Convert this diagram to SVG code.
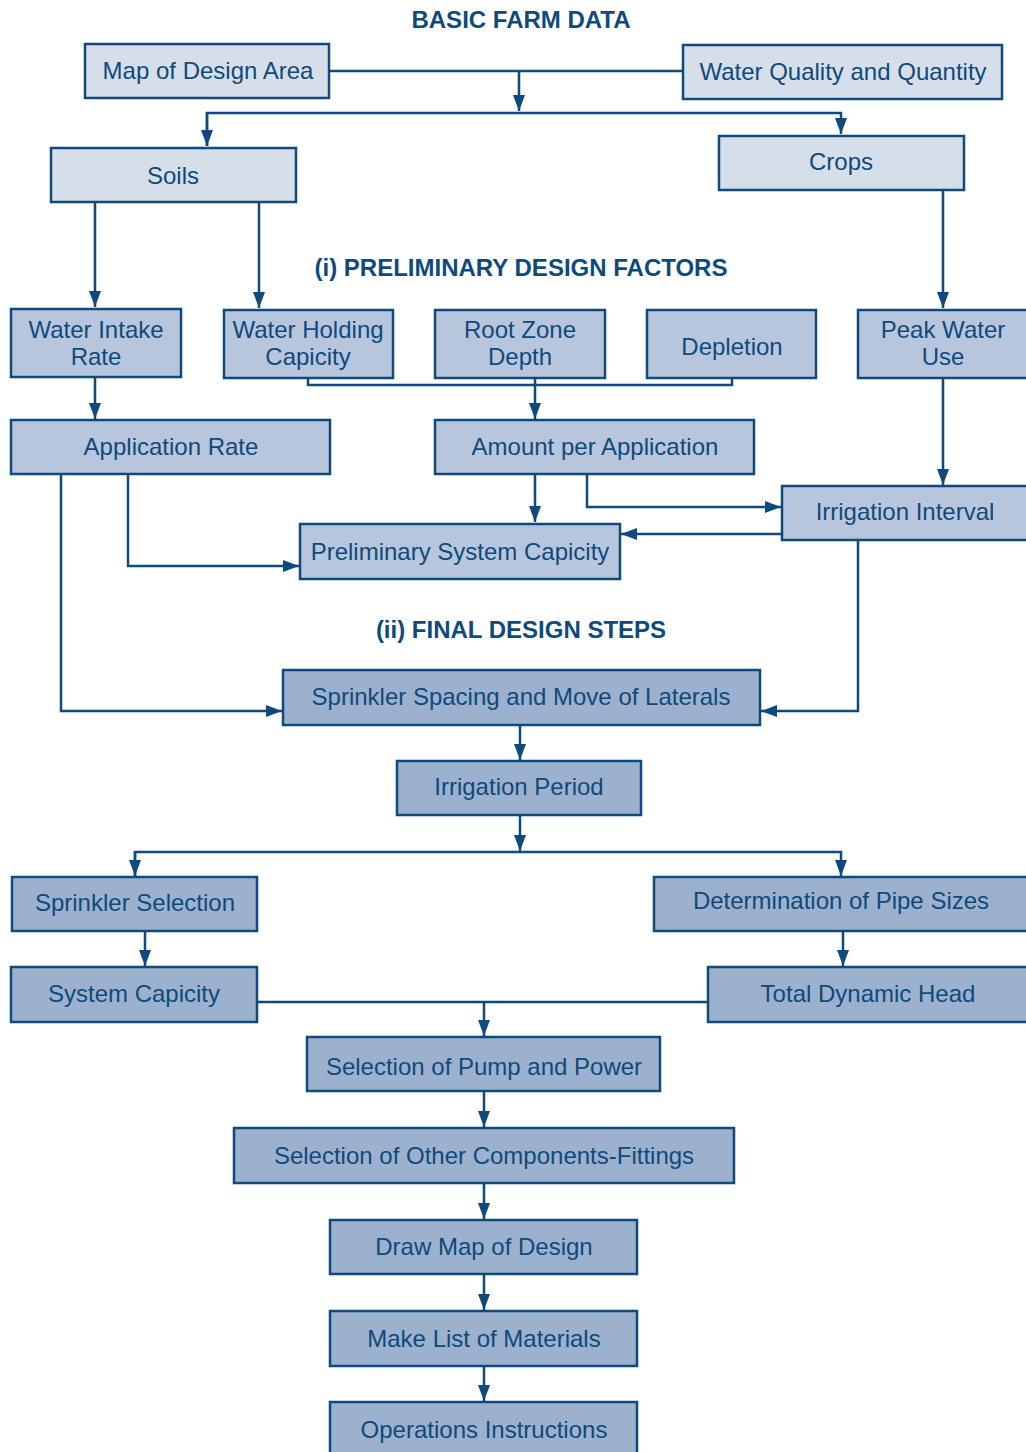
<svg xmlns="http://www.w3.org/2000/svg" width="1026" height="1452" viewBox="0 0 1026 1452">
<style>
.n rect{stroke:#0f4a7c;stroke-width:2.5}
.a rect{fill:#d6deea}
.b rect{fill:#b8c6dd}
.c rect{fill:#9cb1cd}
text{font-family:"Liberation Sans",Arial,sans-serif;font-size:24px;fill:#0f4a7c;text-anchor:middle}
.h{font-weight:bold;font-size:24px}
#edges path{fill:none;stroke:#0f4a7c;stroke-width:2.5}
</style>
<defs>
<marker id="ar" markerUnits="userSpaceOnUse" markerWidth="18" markerHeight="14" refX="16" refY="6" orient="auto">
<path d="M0,0 L16,6 L0,12 Z" fill="#0f4a7c"/>
</marker>
</defs>
<rect width="1026" height="1452" fill="#fff"/>
<text class="h" x="521" y="28">BASIC FARM DATA</text>
<text class="h" x="521" y="276">(i) PRELIMINARY DESIGN FACTORS</text>
<text class="h" x="521" y="638">(ii) FINAL DESIGN STEPS</text>

<g id="edges">
<path d="M329,71 H683"/>
<path d="M519,71 V111" marker-end="url(#ar)"/>
<path d="M207,146 V113 H841 V134" marker-end="url(#ar)"/>
<path d="M207,113 V146" marker-end="url(#ar)"/>
<path d="M95,202 V307" marker-end="url(#ar)"/>
<path d="M259,202 V308" marker-end="url(#ar)"/>
<path d="M943,190 V308" marker-end="url(#ar)"/>
<path d="M308,378 V385 H732 V378"/>
<path d="M535,378 V419" marker-end="url(#ar)"/>
<path d="M95,377 V419" marker-end="url(#ar)"/>
<path d="M943,378 V485" marker-end="url(#ar)"/>
<path d="M535,474 V522" marker-end="url(#ar)"/>
<path d="M587,474 V507 H781" marker-end="url(#ar)"/>
<path d="M782,534 H621" marker-end="url(#ar)"/>
<path d="M128,474 V566 H299" marker-end="url(#ar)"/>
<path d="M61,474 V711 H282" marker-end="url(#ar)"/>
<path d="M858,540 V711 H761" marker-end="url(#ar)"/>
<path d="M520,725 V760" marker-end="url(#ar)"/>
<path d="M520,815 V851"  marker-end="url(#ar)"/>
<path d="M135,876 V852 H841 V876" marker-end="url(#ar)"/>
<path d="M135,852 V876" marker-end="url(#ar)"/>
<path d="M145,931 V966" marker-end="url(#ar)"/>
<path d="M843,931 V966" marker-end="url(#ar)"/>
<path d="M257,1002 H708"/>
<path d="M484,1002 V1036" marker-end="url(#ar)"/>
<path d="M484,1091 V1127" marker-end="url(#ar)"/>
<path d="M484,1183 V1219" marker-end="url(#ar)"/>
<path d="M484,1274 V1310" marker-end="url(#ar)"/>
<path d="M484,1366 V1401" marker-end="url(#ar)"/>
</g>

<g id="map" class="n a"><rect x="85" y="44" width="244" height="54"/><text x="208" y="79">Map of Design Area</text></g>
<g id="water" class="n a"><rect x="683" y="45" width="319" height="54"/><text x="843" y="80">Water Quality and Quantity</text></g>
<g id="soils" class="n a"><rect x="51" y="148" width="245" height="54"/><text x="173" y="184">Soils</text></g>
<g id="crops" class="n a"><rect x="719" y="136" width="245" height="54"/><text x="841" y="170">Crops</text></g>

<g id="wir" class="n b"><rect x="11" y="309" width="170" height="68"/><text x="96" y="338">Water Intake</text><text x="96" y="365">Rate</text></g>
<g id="whc" class="n b"><rect x="224" y="310" width="169" height="68"/><text x="308" y="338">Water Holding</text><text x="308" y="365">Capicity</text></g>
<g id="rzd" class="n b"><rect x="435" y="310" width="170" height="68"/><text x="520" y="338">Root Zone</text><text x="520" y="365">Depth</text></g>
<g id="dep" class="n b"><rect x="647" y="310" width="169" height="68"/><text x="732" y="355">Depletion</text></g>
<g id="pwu" class="n b"><rect x="858" y="310" width="172" height="68"/><text x="943" y="338">Peak Water</text><text x="943" y="365">Use</text></g>
<g id="apprate" class="n b"><rect x="11" y="420" width="319" height="54"/><text x="171" y="455">Application Rate</text></g>
<g id="amount" class="n b"><rect x="435" y="420" width="319" height="54"/><text x="595" y="455">Amount per Application</text></g>
<g id="interval" class="n b"><rect x="782" y="486" width="248" height="54"/><text x="905" y="520">Irrigation Interval</text></g>
<g id="prelim" class="n b"><rect x="300" y="524" width="320" height="55"/><text x="460" y="560">Preliminary System Capicity</text></g>

<g id="spacing" class="n c"><rect x="283" y="670" width="477" height="55"/><text x="521" y="705">Sprinkler Spacing and Move of Laterals</text></g>
<g id="period" class="n c"><rect x="397" y="761" width="244" height="54"/><text x="519" y="795">Irrigation Period</text></g>
<g id="sprsel" class="n c"><rect x="12" y="877" width="245" height="54"/><text x="135" y="911">Sprinkler Selection</text></g>
<g id="pipe" class="n c"><rect x="654" y="877" width="376" height="54"/><text x="841" y="909">Determination of Pipe Sizes</text></g>
<g id="syscap" class="n c"><rect x="11" y="967" width="246" height="55"/><text x="134" y="1002">System Capicity</text></g>
<g id="tdh" class="n c"><rect x="708" y="967" width="322" height="55"/><text x="868" y="1002">Total Dynamic Head</text></g>
<g id="pump" class="n c"><rect x="307" y="1037" width="353" height="54"/><text x="484" y="1075">Selection of Pump and Power</text></g>
<g id="fittings" class="n c"><rect x="234" y="1128" width="500" height="55"/><text x="484" y="1164">Selection of Other Components-Fittings</text></g>
<g id="drawmap" class="n c"><rect x="330" y="1220" width="307" height="54"/><text x="484" y="1255">Draw Map of Design</text></g>
<g id="list" class="n c"><rect x="330" y="1311" width="307" height="55"/><text x="484" y="1347">Make List of Materials</text></g>
<g id="ops" class="n c"><rect x="330" y="1402" width="307" height="60"/><text x="484" y="1438">Operations Instructions</text></g>
</svg>
